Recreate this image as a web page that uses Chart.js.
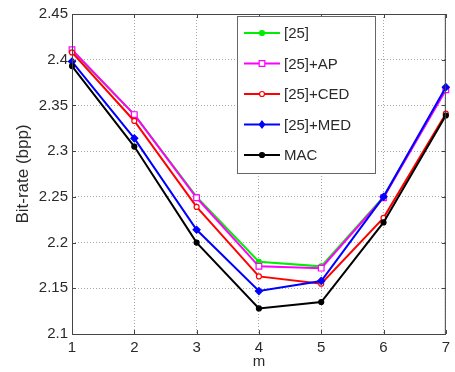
<!DOCTYPE html>
<html lang="en">
<head>
  <meta charset="UTF-8">
  <title>Bit-rate vs m</title>
  <script src="https://cdn.jsdelivr.net/npm/chart.js"></script>
  <style>
    body { margin: 0; background: #fff; }
  </style>
</head>
<body>
  <canvas id="bitrateChart" width="455" height="372"></canvas>

  <script>
    // data
    const mValues = [1, 2, 3, 4, 5, 6, 7];
    const ref25 = [2.410, 2.340, 2.250, 2.179, 2.174, 2.250, 2.368];
    const ref25AP = [2.411, 2.340, 2.249, 2.174, 2.172, 2.249, 2.367];
    const ref25CED = [2.408, 2.333, 2.239, 2.163, 2.155, 2.227, 2.341];
    const ref25MED = [2.398, 2.314, 2.214, 2.147, 2.158, 2.250, 2.370];
    const macValues = [2.393, 2.305, 2.200, 2.128, 2.135, 2.222, 2.339];
    const yTicks = [2.1, 2.15, 2.2, 2.25, 2.3, 2.35, 2.4, 2.45];

    const FONT = '"Liberation Sans", Arial, sans-serif';

    const series = [
      { label: '[25]', data: ref25, color: '#00ee00', marker: 'circle', open: false, r: 2.5 },
      { label: '[25]+AP', data: ref25AP, color: '#ff00ff', marker: 'rect', open: true, r: 4 },
      { label: '[25]+CED', data: ref25CED, color: '#ff0000', marker: 'circle', open: true, r: 2.5 },
      { label: '[25]+MED', data: ref25MED, color: '#0000ff', marker: 'rectRot', open: false, r: 3.5 },
      { label: 'MAC', data: macValues, color: '#000000', marker: 'circle', open: false, r: 2.5 }
    ];

    // box, inward ticks and the legend, drawn matlab style
    const matlabBox = {
      id: 'matlabBox',
      afterDraw(chart) {
        const ctx = chart.ctx;
        const a = chart.chartArea;
        const xs = chart.scales.x, ys = chart.scales.y;
        ctx.save();
        ctx.strokeStyle = '#444';
        ctx.lineWidth = 1;
        ctx.strokeRect(a.left + 0.5, a.top + 0.5, a.right - a.left - 1, a.bottom - a.top);
        ctx.beginPath();
        mValues.forEach((m, i) => {
          const px = Math.round(xs.getPixelForValue(i)) + 0.5;
          ctx.moveTo(px, a.bottom); ctx.lineTo(px, a.bottom - 4);
          ctx.moveTo(px, a.top); ctx.lineTo(px, a.top + 4);
        });
        yTicks.forEach(v => {
          const py = Math.round(ys.getPixelForValue(v)) + 0.5;
          ctx.moveTo(a.left, py); ctx.lineTo(a.left + 4, py);
          ctx.moveTo(a.right, py); ctx.lineTo(a.right - 4, py);
        });
        ctx.stroke();

        // legend
        const lx = 237, ly = 16, lw = 138, lh = 157;
        ctx.fillStyle = '#fff';
        ctx.fillRect(lx, ly, lw, lh);
        ctx.strokeStyle = '#666';
        ctx.strokeRect(lx + 0.5, ly + 0.5, lw, lh);
        ctx.font = '15px ' + FONT;
        ctx.textBaseline = 'middle';
        series.forEach((s, i) => {
          const y = 33 + i * 30.5;
          ctx.strokeStyle = s.color;
          ctx.lineWidth = 2;
          ctx.beginPath();
          ctx.moveTo(244, y); ctx.lineTo(280, y);
          ctx.stroke();
          drawMarker(ctx, s, 262, y);
          ctx.fillStyle = '#2a2a2a';
          ctx.fillText(s.label, 284, y + 1);
        });
        ctx.restore();
      }
    };

    function drawMarker(ctx, s, x, y) {
      ctx.beginPath();
      const r = s.r;
      if (s.marker === 'circle') {
        ctx.arc(x, y, r, 0, Math.PI * 2);
      } else if (s.marker === 'rect') {
        const h = r * Math.SQRT1_2;
        ctx.rect(x - h, y - h, 2 * h, 2 * h);
      } else {
        ctx.moveTo(x, y - r); ctx.lineTo(x + r * 0.75, y);
        ctx.lineTo(x, y + r); ctx.lineTo(x - r * 0.75, y);
        ctx.closePath();
      }
      ctx.fillStyle = s.open ? '#fff' : s.color;
      ctx.fill();
      ctx.lineWidth = 1.2;
      ctx.strokeStyle = s.color;
      ctx.stroke();
    }

    new Chart(document.getElementById('bitrateChart'), {
      type: 'line',
      data: {
        labels: mValues,
        datasets: series.map((s, i) => ({
          label: s.label,
          data: s.data,
          borderColor: s.color,
          backgroundColor: s.open ? '#fff' : s.color,
          pointBorderColor: s.color,
          pointStyle: s.marker,
          pointRadius: s.r,
          pointBorderWidth: 1.2,
          borderWidth: 2,
          tension: 0,
          fill: false,
          order: series.length - i
        }))
      },
      plugins: [matlabBox],
      options: {
        responsive: false,
        animation: false,
        layout: { padding: { top: 14, right: 9, left: 0, bottom: 0 } },
        plugins: {
          legend: { display: false },
          tooltip: { enabled: false }
        },
        scales: {
          x: {
            type: 'category',
            offset: false,
            afterFit: s => { s.height = 38; },
            grid: { color: '#a8a8a8', drawTicks: false, offset: false },
            border: { display: false, dash: [1, 2] },
            ticks: { padding: 5, color: '#2a2a2a', font: { family: FONT, size: 15 } },
            title: { display: true, text: 'm', color: '#2a2a2a', padding: { top: 0, bottom: 1 }, font: { family: FONT, size: 15 } }
          },
          y: {
            min: 2.1,
            max: 2.45,
            afterFit: s => { s.width = 72; },
            afterBuildTicks: s => { s.ticks = yTicks.map(v => ({ value: v })); },
            grid: { color: '#a8a8a8', drawTicks: false },
            border: { display: false, dash: [1, 2] },
            ticks: { padding: 4, color: '#2a2a2a', font: { family: FONT, size: 15 }, callback: v => String(v) },
            title: { display: true, text: 'Bit-rate (bpp)', color: '#2a2a2a', padding: { top: 13, bottom: 0 }, font: { family: FONT, size: 17 } }
          }
        }
      }
    });
  </script>
</body>
</html>
